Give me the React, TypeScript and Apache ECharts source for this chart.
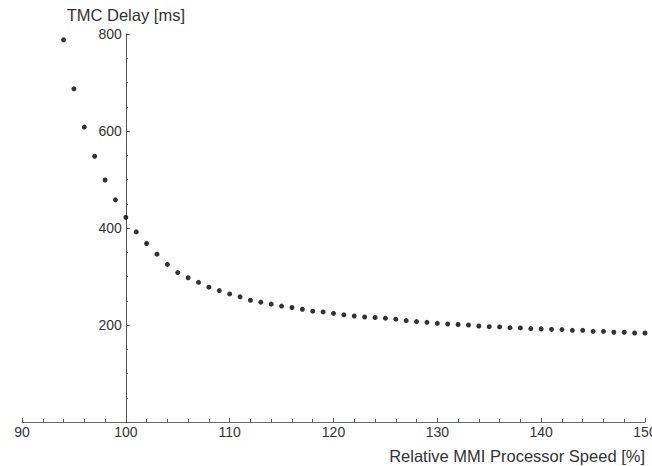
import React, { useEffect, useRef } from "react";
import * as echarts from "echarts";

const speedPercent: number[] = [
  94, 95, 96, 97, 98, 99, 100, 101, 102, 103, 104, 105, 106, 107, 108, 109, 110,
  111, 112, 113, 114, 115, 116, 117, 118, 119, 120, 121, 122, 123, 124, 125, 126,
  127, 128, 129, 130, 131, 132, 133, 134, 135, 136, 137, 138, 139, 140, 141, 142,
  143, 144, 145, 146, 147, 148, 149, 150,
];

const delayMs: number[] = [
  788, 687, 608, 548, 499, 458, 422, 392, 368, 346, 325, 308, 297.5, 288, 278,
  271, 264, 258, 251, 247, 243, 239, 236, 232.5, 228.5, 227, 224, 221, 218.5,
  216.5, 215.5, 214, 212, 209, 207, 205.5, 203.5, 202, 201, 200, 198, 196.5,
  196, 194.5, 194, 192.5, 192, 191, 190.5, 189, 189, 187, 187, 185, 185, 183.5,
  183.5,
];

const xTicks = { min: 90, max: 150, interval: 10 };
const yTicks = { min: 0, max: 800, interval: 200 };
const yAxisCrossAt = 100;

const xTitle = "Relative MMI Processor Speed [%]";
const yTitle = "TMC Delay [ms]";

const W = 652;
const H = 466;
const GRID_LEFT = 22;
const GRID_RIGHT = 7;
const GRID_TOP = 34;
const GRID_BOTTOM = 44;

const FONT = "'Liberation Sans', Arial, Helvetica, sans-serif";

export default function App() {
  const ref = useRef<HTMLDivElement>(null);

  useEffect(() => {
    document.body.style.margin = "0";
    if (!ref.current) return;
    const chart = echarts.init(ref.current, undefined, { renderer: "svg" });
    const gridWidth = W - GRID_LEFT - GRID_RIGHT;
    const yOffset =
      -gridWidth * ((yAxisCrossAt - xTicks.min) / (xTicks.max - xTicks.min));
    const points = speedPercent.map((x, i) => [x, delayMs[i]]);

    chart.setOption({
      animation: false,
      backgroundColor: "#ffffff",
      grid: {
        left: GRID_LEFT,
        right: GRID_RIGHT,
        top: GRID_TOP,
        bottom: GRID_BOTTOM,
        containLabel: false,
        outerBoundsMode: "none",
      },
      xAxis: {
        type: "value",
        min: xTicks.min,
        max: xTicks.max,
        interval: xTicks.interval,
        axisLine: { show: true, onZero: true, lineStyle: { color: "#6a6a6a", width: 1 } },
        axisTick: { show: true, inside: true, length: 4, lineStyle: { color: "#555" } },
        minorTick: { show: true, splitNumber: 5, length: 3, lineStyle: { color: "#555" } },
        splitLine: { show: false },
        axisLabel: {
          margin: 3,
          color: "#333",
          fontSize: 14,
          fontFamily: FONT,
        },
      },
      yAxis: {
        type: "value",
        min: yTicks.min,
        max: yTicks.max,
        interval: yTicks.interval,
        position: "left",
        offset: yOffset,
        name: yTitle,
        nameLocation: "end",
        nameGap: 11,
        nameTextStyle: { color: "#333", fontSize: 16.5, fontFamily: FONT },
        axisLine: { show: true, onZero: false, lineStyle: { color: "#555", width: 1 } },
        axisTick: { show: true, inside: true, length: 4, lineStyle: { color: "#555" } },
        minorTick: { show: true, splitNumber: 4, length: 2, lineStyle: { color: "#555" } },
        splitLine: { show: false },
        axisLabel: {
          margin: 4,
          color: "#333",
          fontSize: 14,
          fontFamily: FONT,
          formatter: (v: number) => (v === 0 ? "" : String(v)),
        },
      },
      graphic: [
        {
          type: "text",
          right: 7,
          top: 447,
          style: {
            text: xTitle,
            fill: "#333",
            fontSize: 16.5,
            fontFamily: FONT,
          },
        },
      ],
      series: [
        {
          type: "scatter",
          data: points,
          symbol: "circle",
          symbolSize: 5,
          itemStyle: { color: "#000" },
          clip: false,
        },
      ],
    });

    return () => chart.dispose();
  }, []);

  return <div ref={ref} style={{ width: W, height: H }} />;
}
